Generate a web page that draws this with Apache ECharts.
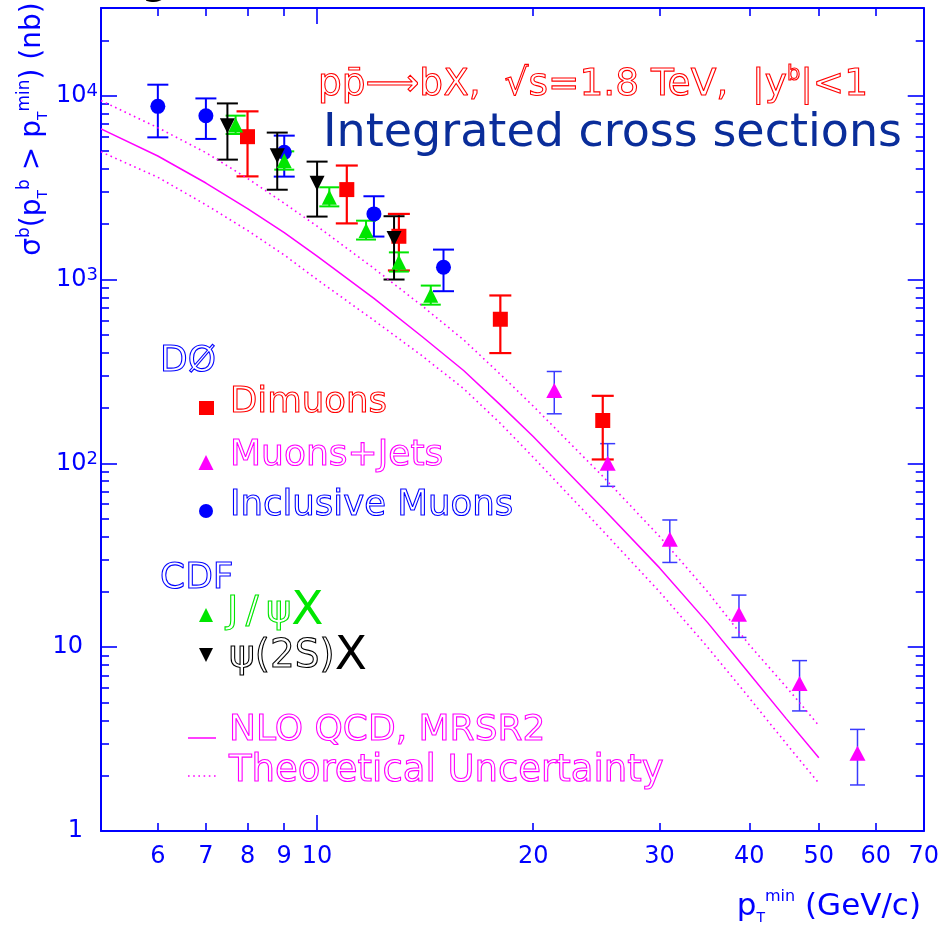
<!DOCTYPE html>
<html>
<head>
<meta charset="utf-8">
<script src="https://cdn.jsdelivr.net/npm/echarts@6/dist/echarts.min.js"></script>
<style>
  html, body { margin: 0; padding: 0; background: #ffffff; }
  #chart { width: 942px; height: 925px; }
</style>
</head>
<body>
<div id="chart"></div>
<script>
// ---- D0 dimuons: pT_min (GeV/c), sigma (nb), lower / upper error ----
const dimuonPt    = [8, 11, 13, 18, 25];
const dimuonSigma = [5985, 3085, 1719, 608, 171];
const dimuonLow   = [3640, 2020, 1120, 398, 105];
const dimuonHigh  = [8220, 4170, 2275, 819, 233];

// ---- D0 muons + jets ----
const muJetPt    = [21.4, 25.4, 31, 38.7, 47, 56.6];
const muJetSigma = [249, 100, 38.6, 15.1, 6.35, 2.65];
const muJetLow   = [186, 75, 28.9, 11.3, 4.5, 1.78];
const muJetHigh  = [316, 128, 49.2, 19.2, 8.45, 3.57];

// ---- D0 inclusive muons ----
const inclPt    = [6, 7, 9, 12, 15];
const inclSigma = [8750, 7785, 4920, 2275, 1167];
const inclLow   = [5935, 5820, 3630, 1713, 864];
const inclHigh  = [11480, 9665, 6064, 2838, 1455];

// ---- CDF J/psi X ----
const jpsiPt    = [7.7, 9.0, 10.4, 11.7, 13.0, 14.4];
const jpsiSigma = [6930, 4430, 2800, 1850, 1240, 820];
const jpsiLow   = [6190, 3960, 2500, 1650, 1105, 730];
const jpsiHigh  = [7790, 4980, 3175, 2090, 1405, 927];

// ---- CDF psi(2S) X ----
const psi2sPt    = [7.5, 8.8, 10, 12.8];
const psi2sSigma = [6870, 4720, 3340, 1670];
const psi2sLow   = [4490, 3080, 2200, 1000];
const psi2sHigh  = [9080, 6300, 4380, 2210];

// ---- NLO QCD (MRSR2) with its uncertainty band ----
const theoryPt   = [5, 6, 7, 8, 9, 10, 12, 14, 16, 18, 20, 25, 30, 35, 40, 45, 50];
const nloCentral = [6600, 4700, 3350, 2430, 1800, 1340, 790, 490, 320, 208, 140, 57, 27, 13.6, 7.2, 4.1, 2.5];
const nloUpper   = [9400, 6700, 4900, 3550, 2600, 1950, 1150, 720, 470, 305, 205, 85, 40, 20, 10.3, 6.1, 3.75];
const nloLower   = [4950, 3600, 2550, 1850, 1360, 1000, 600, 385, 255, 165, 108, 43, 20, 10, 5.3, 3.0, 1.82];

// ---- axis ticks ----
const xLabelValues = [6, 7, 8, 9, 10, 20, 30, 40, 50, 60, 70];
const xMajorTicks  = [10];
const xMinorTicks  = [6, 7, 8, 9, 20, 30, 40, 50, 60];
const yDecades     = [1, 10, 100, 1000, 10000];
const yMinorTicks  = [2, 3, 4, 5, 6, 7, 8, 9, 20, 30, 40, 50, 60, 70, 80, 90,
                      200, 300, 400, 500, 600, 700, 800, 900,
                      2000, 3000, 4000, 5000, 6000, 7000, 8000, 9000, 20000];

const X_MIN = 5, X_MAX = 70, Y_MIN = 1, Y_MAX = 30000;

const BLUE = '#0000ff';
const RED = '#ff0000';
const MAGENTA = '#ff00ff';
const GREEN = '#00e600';
const BLACK = '#000000';
const FONT = 'DejaVu Sans';

function xAxisDef(position, ticks, len, withLine, withLabels) {
  return {
    type: 'log', logBase: 10, min: X_MIN, max: X_MAX, position: position,
    axisLine: { show: withLine, lineStyle: { color: BLUE, width: 2 } },
    axisTick: { show: true, inside: true, length: len, customValues: ticks,
                lineStyle: { color: BLUE, width: 1.6 } },
    axisLabel: withLabels ? {
      show: true, customValues: xLabelValues, margin: 14,
      color: BLUE, fontFamily: FONT, fontSize: 24
    } : { show: false },
    splitLine: { show: false }, minorTick: { show: false }
  };
}

function yAxisDef(position, ticks, len, withLine, withLabels) {
  return {
    type: 'log', logBase: 10, min: Y_MIN, max: Y_MAX, position: position,
    axisLine: { show: withLine, lineStyle: { color: BLUE, width: 2 } },
    axisTick: { show: true, inside: true, length: len, customValues: ticks,
                lineStyle: { color: BLUE, width: 1.6 } },
    axisLabel: withLabels ? {
      show: true, customValues: yDecades, margin: 3,
      formatter: function (v) {
        const e = Math.round(Math.log10(v));
        if (e === 0) return '{n|1}{gap| }';
        if (e === 1) return '{n|10}{gap| }';
        return '{n|10}{e|' + e + '}';
      },
      rich: {
        n: { color: BLUE, fontFamily: FONT, fontSize: 24, lineHeight: 26 },
        e: { color: BLUE, fontFamily: FONT, fontSize: 18, lineHeight: 18, verticalAlign: 'top' },
        gap: { width: 15, fontSize: 16 }
      }
    } : { show: false },
    splitLine: { show: false }, minorTick: { show: false }
  };
}

// vertical error bar with horizontal caps, positioned through the axes
function errorBars(xs, lo, hi, color, width, cap) {
  return {
    type: 'custom', silent: true,
    data: xs.map(function (x, i) { return [x, lo[i], hi[i]]; }),
    encode: { x: 0, y: [1, 2] },
    renderItem: function (params, api) {
      const top = api.coord([api.value(0), api.value(2)]);
      const bot = api.coord([api.value(0), api.value(1)]);
      const h = cap / 2;
      const st = { stroke: color, lineWidth: width, fill: null };
      return {
        type: 'group',
        children: [
          { type: 'line', shape: { x1: top[0], y1: top[1], x2: bot[0], y2: bot[1] }, style: st },
          { type: 'line', shape: { x1: top[0] - h, y1: top[1], x2: top[0] + h, y2: top[1] }, style: st },
          { type: 'line', shape: { x1: bot[0] - h, y1: bot[1], x2: bot[0] + h, y2: bot[1] }, style: st }
        ]
      };
    }
  };
}

function points(xs, ys, symbol, size, color, rotate) {
  return {
    type: 'scatter', silent: true,
    data: xs.map(function (x, i) { return [x, ys[i]]; }),
    symbol: symbol, symbolSize: size, symbolRotate: rotate || 0,
    itemStyle: { color: color, opacity: 1, borderWidth: 0 }
  };
}

function curve(ys, dotted) {
  return {
    type: 'line', silent: true, showSymbol: false, smooth: false,
    data: theoryPt.map(function (x, i) { return [x, ys[i]]; }),
    lineStyle: { color: MAGENTA, width: dotted ? 1.6 : 1.5, type: dotted ? [1.6, 3.6] : 'solid' }
  };
}

// outlined lettering used for the plot annotations
function outline(color, size) {
  return { fontFamily: FONT, fontSize: size, fill: 'transparent', stroke: color, lineWidth: 1.1 };
}

const chart = echarts.init(document.getElementById('chart'));

chart.setOption({
  animation: false,
  backgroundColor: '#ffffff',
  grid: { left: 101, right: 18, top: 8, bottom: 94, containLabel: false },
  xAxis: [
    xAxisDef('bottom', xMajorTicks, 16, true, true),
    xAxisDef('bottom', xMinorTicks, 8, false, false),
    xAxisDef('top', xMajorTicks, 16, true, false),
    xAxisDef('top', xMinorTicks, 8, false, false)
  ],
  yAxis: [
    yAxisDef('left', yDecades, 16, true, true),
    yAxisDef('left', yMinorTicks, 8, false, false),
    yAxisDef('right', yDecades, 16, true, false),
    yAxisDef('right', yMinorTicks, 8, false, false)
  ],
  series: [
    curve(nloUpper, true),
    curve(nloLower, true),
    curve(nloCentral, false),
    errorBars(muJetPt, muJetLow, muJetHigh, '#3a3aff', 1.5, 15),
    points(muJetPt, muJetSigma, 'triangle', [16, 15], MAGENTA),
    errorBars(dimuonPt, dimuonLow, dimuonHigh, RED, 2.2, 22),
    points(dimuonPt, dimuonSigma, 'rect', [15, 15], RED),
    errorBars(inclPt, inclLow, inclHigh, BLUE, 2, 21),
    points(inclPt, inclSigma, 'circle', 15, BLUE),
    errorBars(jpsiPt, jpsiLow, jpsiHigh, GREEN, 2, 20),
    points(jpsiPt, jpsiSigma, 'triangle', [15, 15], GREEN),
    errorBars(psi2sPt, psi2sLow, psi2sHigh, BLACK, 2, 21),
    points(psi2sPt, psi2sSigma, 'triangle', [15, 15], BLACK, 180)
  ],
  graphic: [
    // partial heading glyph above the frame
    { type: 'text', x: 155, y: -20, style: { text: 'g', fontFamily: FONT, fontSize: 46, fill: BLACK, align: 'center', verticalAlign: 'middle' } },
    // process line
    { type: 'text', x: 318, y: 85, style: {
        text: '{a|pp\u0304\u27F6bX,  \u221As=1.8 TeV,  |y}{b|b}{a||<1}',
        align: 'left', verticalAlign: 'middle',
        rich: {
          a: Object.assign(outline(RED, 37.5), { lineHeight: 42 }),
          b: Object.assign(outline(RED, 21), { lineHeight: 21, verticalAlign: 'top' })
        }
    } },
    { type: 'text', x: 323, y: 134, style: { text: 'Integrated cross sections', fontFamily: FONT, fontSize: 46, fill: '#0a2d9a', align: 'left', verticalAlign: 'middle' } },
    // y axis title
    { type: 'text', x: 33, y: 129, rotation: Math.PI / 2, style: {
        text: '{m|\u03C3}{sp|b}{m|(p}{sb|T}{sp|b}{m| > p}{sb|T}{sp|min}{m|) (nb)}',
        align: 'center', verticalAlign: 'middle',
        rich: {
          m: { fontFamily: FONT, fontSize: 28, fill: BLUE, lineHeight: 34 },
          sp: { fontFamily: FONT, fontSize: 17, fill: BLUE, lineHeight: 17, verticalAlign: 'top' },
          sb: { fontFamily: FONT, fontSize: 14, fill: BLUE, lineHeight: 14, verticalAlign: 'bottom' }
        }
    } },
    // x axis title
    { type: 'text', x: 921, y: 907, style: {
        text: '{m|p}{sb|T}{sp|min}{m| (GeV/c)}',
        align: 'right', verticalAlign: 'middle',
        rich: {
          m: { fontFamily: FONT, fontSize: 31, fill: BLUE, lineHeight: 36 },
          sp: { fontFamily: FONT, fontSize: 16, fill: BLUE, lineHeight: 16, verticalAlign: 'top' },
          sb: { fontFamily: FONT, fontSize: 14, fill: BLUE, lineHeight: 14, verticalAlign: 'bottom' }
        }
    } },
    // D0 key
    { type: 'text', x: 160, y: 362, style: Object.assign(outline(BLUE, 36), { text: 'D\u00D8', verticalAlign: 'middle' }) },
    { type: 'rect', shape: { x: 199, y: 401, width: 15, height: 14 }, style: { fill: RED } },
    { type: 'text', x: 230, y: 403, style: Object.assign(outline(RED, 35.5), { text: 'Dimuons', verticalAlign: 'middle' }) },
    { type: 'polygon', shape: { points: [[206, 455], [213.5, 470], [198.5, 470]] }, style: { fill: MAGENTA } },
    { type: 'text', x: 230, y: 456, style: Object.assign(outline(MAGENTA, 36), { text: 'Muons+Jets', verticalAlign: 'middle' }) },
    { type: 'circle', shape: { cx: 206, cy: 511, r: 7 }, style: { fill: BLUE } },
    { type: 'text', x: 230, y: 506, style: Object.assign(outline(BLUE, 35.5), { text: 'Inclusive Muons', verticalAlign: 'middle' }) },
    // CDF key
    { type: 'text', x: 160, y: 579, style: Object.assign(outline(BLUE, 36), { text: 'CDF', verticalAlign: 'middle' }) },
    { type: 'polygon', shape: { points: [[206, 608], [213, 622], [199, 622]] }, style: { fill: GREEN } },
    { type: 'text', x: 227, y: 612, style: {
        text: '{h|J\u2009/\u2009\u03C8}{x|X}', verticalAlign: 'middle',
        rich: {
          h: Object.assign(outline(GREEN, 38), { lineHeight: 48 }),
          x: { fontFamily: FONT, fontSize: 47, fill: GREEN, lineHeight: 48 }
        }
    } },
    { type: 'polygon', shape: { points: [[199, 648], [213, 648], [206, 662]] }, style: { fill: BLACK } },
    { type: 'text', x: 229, y: 657, style: {
        text: '{h|\u03C8(2S)}{x|X}', verticalAlign: 'middle',
        rich: {
          h: Object.assign(outline(BLACK, 39), { lineHeight: 48 }),
          x: { fontFamily: FONT, fontSize: 47, fill: BLACK, lineHeight: 48 }
        }
    } },
    // theory key
    { type: 'line', shape: { x1: 188, y1: 738, x2: 216, y2: 738 }, style: { stroke: MAGENTA, lineWidth: 1.5 } },
    { type: 'text', x: 229, y: 731, style: Object.assign(outline(MAGENTA, 36), { text: 'NLO QCD, MRSR2', verticalAlign: 'middle' }) },
    { type: 'line', shape: { x1: 188, y1: 776, x2: 216, y2: 776 }, style: { stroke: MAGENTA, lineWidth: 1.6, lineDash: [1.6, 3.6] } },
    { type: 'text', x: 229, y: 771, style: Object.assign(outline(MAGENTA, 37), { text: 'Theoretical Uncertainty', verticalAlign: 'middle' }) }
  ]
});
</script>
</body>
</html>
